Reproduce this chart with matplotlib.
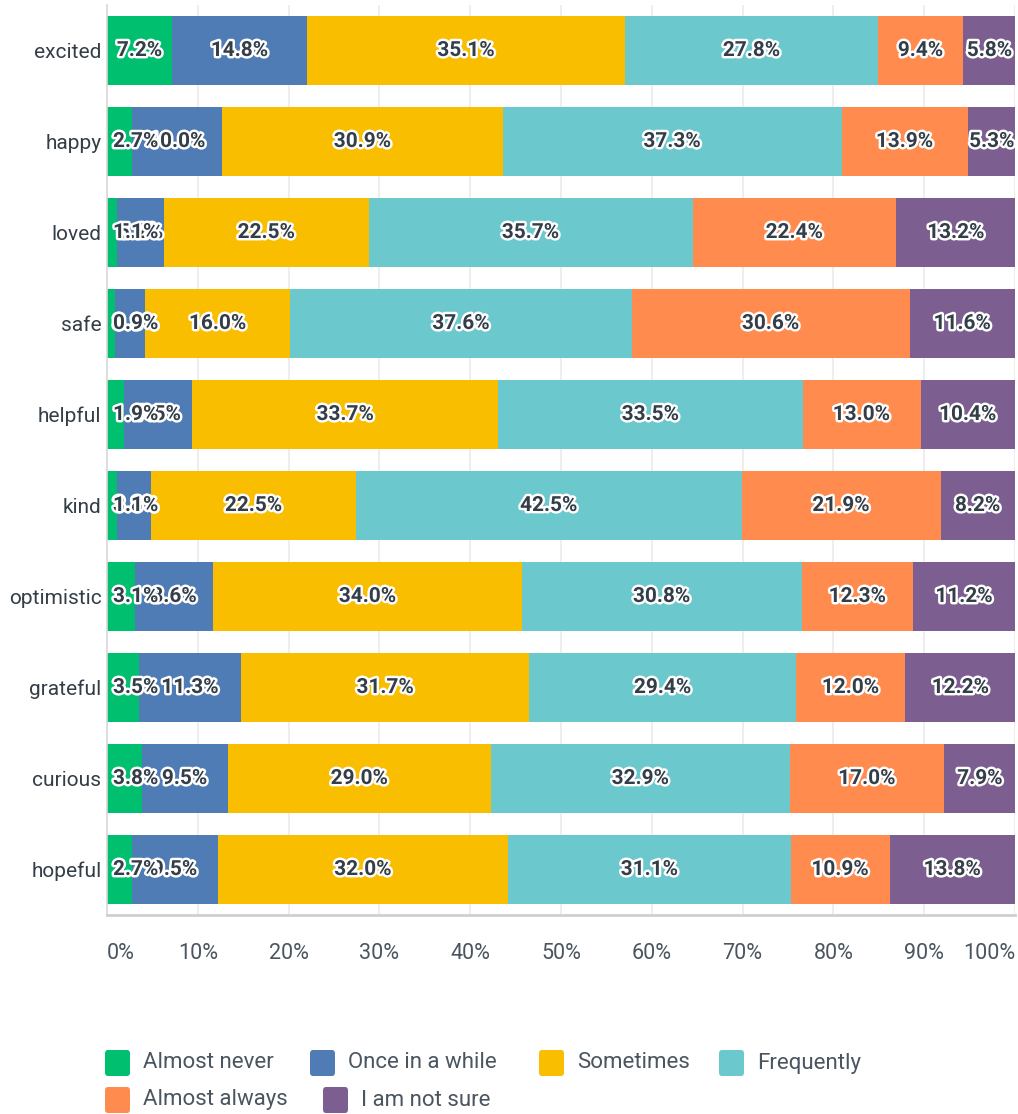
import matplotlib.pyplot as plt
import matplotlib.patheffects as pe
from matplotlib.patches import FancyBboxPatch

plt.rcParams['font.family'] = ['Roboto', 'DejaVu Sans']

categories = ['excited', 'happy', 'loved', 'safe', 'helpful', 'kind',
              'optimistic', 'grateful', 'curious', 'hopeful']
series = ['Almost never', 'Once in a while', 'Sometimes', 'Frequently',
          'Almost always', 'I am not sure']

almost_never = [7.2, 2.7, 1.1, 0.9, 1.9, 1.1, 3.1, 3.5, 3.8, 2.7]
once_in_a_while = [14.8, 10.0, 5.2, 3.3, 7.5, 3.8, 8.6, 11.3, 9.5, 9.5]
sometimes = [35.1, 30.9, 22.5, 16.0, 33.7, 22.5, 34.0, 31.7, 29.0, 32.0]
frequently = [27.8, 37.3, 35.7, 37.6, 33.5, 42.5, 30.8, 29.4, 32.9, 31.1]
almost_always = [9.4, 13.9, 22.4, 30.6, 13.0, 21.9, 12.3, 12.0, 17.0, 10.9]
not_sure = [5.8, 5.3, 13.2, 11.6, 10.4, 8.2, 11.2, 12.2, 7.9, 13.8]

values = [almost_never, once_in_a_while, sometimes, frequently, almost_always, not_sure]
colors = ['#00BF6F', '#507CB6', '#F9BE00', '#6BC8CD', '#FF8B4F', '#7D5E90']

ticks = list(range(0, 101, 10))
tick_labels = [f'{t}%' for t in ticks]

fig = plt.figure(figsize=(10.18, 11.14), dpi=100)
ax = fig.add_axes([107 / 1018, 1 - 915 / 1114, 908 / 1018, 910 / 1114])

ypos = list(range(len(categories)))
left = [0.0] * len(categories)
labels = []
for k, (vals, col) in enumerate(zip(values, colors)):
    ax.barh(ypos, vals, left=left, height=0.75, color=col, zorder=2)
    for i, v in enumerate(vals):
        t = ax.text(left[i] + v / 2, i, f'{v:.1f}%', ha='center', va='center',
                    fontsize=15, fontweight='bold', color='#333E48',
                    zorder=20 - k,
                    path_effects=[pe.withStroke(linewidth=3.5, foreground='white')])
        labels.append(t)
    left = [l + v for l, v in zip(left, vals)]

ax.set_xlim(0, 100)
ax.set_ylim(len(categories) - 0.5, -0.5)
ax.set_yticks(ypos)
ax.set_yticklabels(categories, fontsize=15, color='#333E48')
ax.tick_params(axis='y', length=0, pad=4)
ax.set_xticks(ticks)
ax.set_xticklabels(tick_labels, fontsize=15.5, color='#4A5560')
ax.tick_params(axis='x', length=0, pad=20)
xt = ax.get_xticklabels()
xt[0].set_ha('left')
xt[-1].set_ha('right')

ax.grid(axis='x', color='#EBEBEB', linewidth=1.2, zorder=0)
for s in ['top', 'right']:
    ax.spines[s].set_visible(False)
ax.spines['left'].set_color('#D9D9D9')
ax.spines['left'].set_linewidth(1.2)
ax.spines['bottom'].set_color('#CFCFCF')
ax.spines['bottom'].set_linewidth(2)

# keep labels of thin segments from running into the axis
fig.canvas.draw()
r = fig.canvas.get_renderer()
min_left = ax.transData.transform((0, 0))[0] + 6
for t in labels:
    bb = t.get_window_extent(r)
    if bb.x0 < min_left:
        x_data = ax.transData.inverted().transform((min_left, 0))[0]
        t.set_x(x_data)
        t.set_ha('left')

# legend
legend_rows = [
    [(0, 105), (1, 310), (2, 539), (3, 719)],
    [(4, 105), (5, 323)],
]
row_y = [1063, 1100]
W, H = 1018, 1114
for row, yc in zip(legend_rows, row_y):
    for idx, xpx in row:
        box = FancyBboxPatch((xpx / W, (H - yc - 13) / H), 25 / W, 26 / H,
                             boxstyle='round,pad=0,rounding_size=0.003',
                             transform=fig.transFigure, facecolor=colors[idx],
                             edgecolor='none')
        fig.patches.append(box)
        fig.text((xpx + 38) / W, (H - yc) / H, series[idx], ha='left', va='center',
                 fontsize=16, color='#4A5560')

fig.savefig('out.png', dpi=100)
